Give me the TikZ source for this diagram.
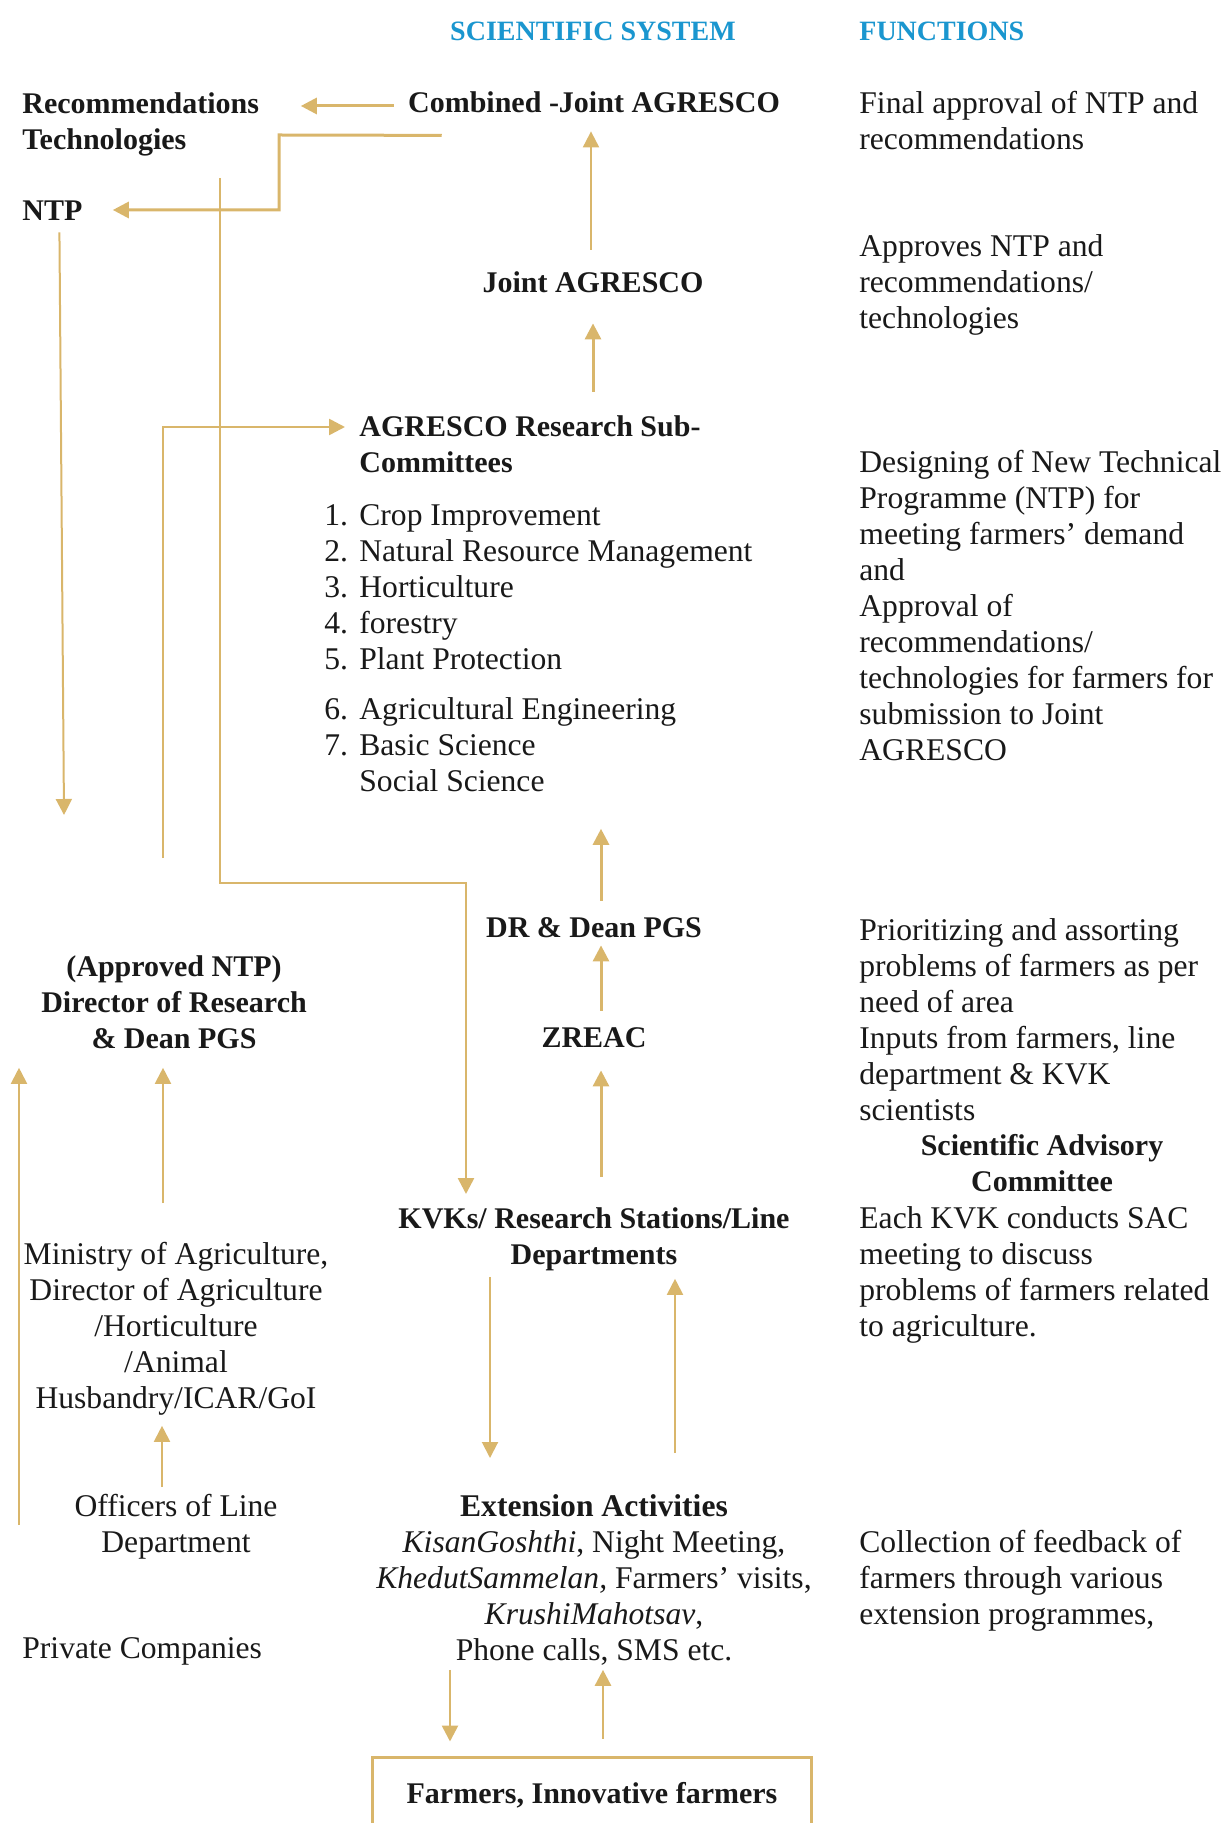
\documentclass[tikz,border=0pt]{standalone}
\usepackage{fontspec}
\setmainfont{Liberation Serif}
\usetikzlibrary{positioning}
\usetikzlibrary{arrows.meta}
\definecolor{gold}{HTML}{D9B66B}
\definecolor{headblue}{HTML}{1A96CF}
\newcommand{\lnum}[1]{\makebox[17.5pt][l]{#1.}}
\tikzset{
    txt/.style = {inner sep=0pt, text=black!90, font=\fontsize{15.8}{18}\selectfont, execute at begin node={\rule[-3.65pt]{0pt}{18pt}}, execute at end node={\rule[-3.65pt]{0pt}{3.65pt}}},
    txtb/.style = {txt, font=\fontsize{15}{18}\selectfont\bfseries},
    head/.style = {txt, text=headblue, font=\fontsize{14}{18}\selectfont\bfseries},
    farmbox/.style = {txtb, draw=gold, line width=1.5pt, minimum width=219.5pt, minimum height=36pt},
    edgeg/.style = {-{Triangle[length=8pt,width=8pt]}, line width=1.5pt, gold},
    edgem/.style = {-{Triangle[length=8pt,width=8pt]}, line width=1.3pt, gold},
    edget/.style = {-{Triangle[length=8pt,width=8pt]}, line width=1pt, gold},
}

\begin{document}
\begin{tikzpicture}[x=0.5pt,y=-0.5pt]
\useasboundingbox (0,0) rectangle (1226,1823);
%
\node[head] (hsys) at (593,30) {SCIENTIFIC SYSTEM};
\node[head, anchor=west] (hfun) at (859,30) {FUNCTIONS};
%
\node[txtb] (comb) at (594,102) {Combined -Joint AGRESCO};
\node[txtb, align=flush left, text width=131pt, anchor=north west] (rec) at (22,84) {Recommendations\\Technologies};
\node[txtb, anchor=west] (ntp) at (22,210) {NTP};
\node[txtb] (jagr) at (593,282) {Joint AGRESCO};
\node[txtb, align=flush left, text width=210pt, anchor=north west] (arsc) at (359,407) {AGRESCO Research Sub-\\Committees};
\node[txt, align=flush left, text width=240pt, anchor=north west] (subs) at (324,496) {\lnum{1}Crop Improvement\\\lnum{2}Natural Resource Management\\\lnum{3}Horticulture\\\lnum{4}forestry\\\lnum{5}Plant Protection\\[7pt]\lnum{6}Agricultural Engineering\\\lnum{7}Basic Science\\\hspace*{17.5pt}Social Science};
\node[txtb] (drpgs) at (594,927) {DR \& Dean PGS};
\node[txtb] (zreac) at (594,1037) {ZREAC};
\node[txtb, align=flush center, text width=250pt, anchor=north] (kvk) at (594,1199) {KVKs/ Research Stations/Line\\Departments};
\node[txt, align=flush center, text width=250pt, anchor=north] (ext) at (594,1487) {\textbf{Extension Activities}\\\textit{KisanGoshthi}, Night Meeting,\\\textit{KhedutSammelan,} Farmers’ visits,\\\textit{KrushiMahotsav},\\Phone calls, SMS etc.};
\node[farmbox] (farm) at (592,1793) {Farmers, Innovative farmers};
%
\node[txtb, align=flush center, text width=170pt, anchor=north] (apntp) at (174,947) {(Approved NTP)\\Director of Research\\\& Dean PGS};
\node[txt, align=flush center, text width=170pt, anchor=north] (minis) at (176,1235) {Ministry of Agriculture,\\Director of Agriculture\\/Horticulture\\/Animal\\Husbandry/ICAR/GoI};
\node[txt, align=flush center, text width=150pt, anchor=north] (offc) at (176,1487) {Officers of Line\\Department};
\node[txt, anchor=west] (priv) at (22,1648) {Private Companies};
%
\node[txt, align=flush left, text width=200pt, anchor=north west] (fn1) at (859,84) {Final approval of NTP and\\recommendations};
\node[txt, align=flush left, text width=200pt, anchor=north west] (fn2) at (859,227) {Approves NTP and\\recommendations/\\technologies};
\node[txt, align=flush left, text width=200pt, anchor=north west] (fn3) at (859,443) {Designing of New Technical\\Programme (NTP) for\\meeting farmers’ demand\\and\\Approval of\\recommendations/\\technologies for farmers for\\submission to Joint\\AGRESCO};
\node[txt, align=flush left, text width=200pt, anchor=north west] (fn4) at (859,911) {Prioritizing and assorting\\problems of farmers as per\\need of area\\Inputs from farmers, line\\department \& KVK\\scientists};
\node[txtb, align=flush center, text width=180pt] (sac) at (1042,1163) {Scientific Advisory\\Committee};
\node[txt, align=flush left, text width=200pt, anchor=north west] (fn5) at (859,1199) {Each KVK conducts SAC\\meeting to discuss\\problems of farmers related\\to agriculture.};
\node[txt, align=flush left, text width=200pt, anchor=north west] (fn6) at (859,1523) {Collection of feedback of\\farmers through various\\extension programmes,};
%
\coordinate (celb) at (279,135);
\coordinate (subin) at (163,858);
\coordinate (ntpout) at (220,178);
\coordinate (kvkelb) at (466,883);
\coordinate (ntpend) at (64,815);
\coordinate (lnout) at (19,1525);
%
\draw[edgeg, shorten <=7pt, shorten >=8pt] ([yshift=-2pt]comb.west) -- ([yshift=-2pt]rec.east |- comb.west);
\draw[edgeg, shorten >=15pt] ([shift={(17pt,-7.5pt)}]comb.south west) -- (celb) |- (ntp.east);
\draw[edget, shorten <=7pt, shorten >=5.5pt] ([xshift=-1pt]jagr.north) -- ([xshift=-1pt]jagr.north |- comb.south);
\draw[edgeg, shorten <=7.5pt, shorten >=11.5pt] (jagr.south |- arsc.north) -- (jagr.south);
\draw[edgem, shorten >=7pt] (subin) |- ([yshift=-10pt]arsc.north west);
\draw[edgem, shorten >=2.5pt] (ntpout) |- (kvkelb) -- (kvkelb |- kvk.north);
\draw[edget, shorten <=2pt] ([xshift=3.5pt]ntp.south) -- (ntpend);
\draw[edgeg, shorten <=4pt, shorten >=15pt] ([xshift=3.5pt]drpgs.north) -- ([xshift=3.5pt]drpgs.north |- subs.south);
\draw[edgeg, shorten <=4pt] ([xshift=3.5pt]zreac.north) -- ([xshift=3.5pt]zreac.north |- drpgs.south);
\draw[edgeg, shorten <=11pt, shorten >=7.5pt] ([xshift=3.5pt]kvk.north) -- ([xshift=3.5pt]kvk.north |- zreac.south);
\draw[edget, shorten <=2.5pt, shorten >=14.5pt] ([xshift=-52pt]kvk.south) -- ([xshift=-52pt]kvk.south |- ext.north);
\draw[edget, shorten <=17pt, shorten >=3.5pt] ([xshift=40.5pt]ext.north) -- ([xshift=40.5pt]ext.north |- kvk.south);
\draw[edgem, shorten <=1pt, shorten >=7pt] ([xshift=-72pt]ext.south) -- ([xshift=-72pt]ext.south |- farm.north);
\draw[edgem, shorten <=8.5pt, shorten >=1pt] ([xshift=5.5pt]farm.north) -- ([xshift=5.5pt]farm.north |- ext.south);
\draw[edget, shorten <=16pt, shorten >=6pt] ([xshift=-6.5pt]minis.north) -- ([xshift=-6.5pt]minis.north |- apntp.south);
\draw[edget, shorten >=5pt] ([xshift=-7pt]offc.north) -- ([xshift=-7pt]offc.north |- minis.south);
\draw[edget, shorten >=6pt] (lnout) -- (lnout |- apntp.south);

\end{tikzpicture}
\end{document}
